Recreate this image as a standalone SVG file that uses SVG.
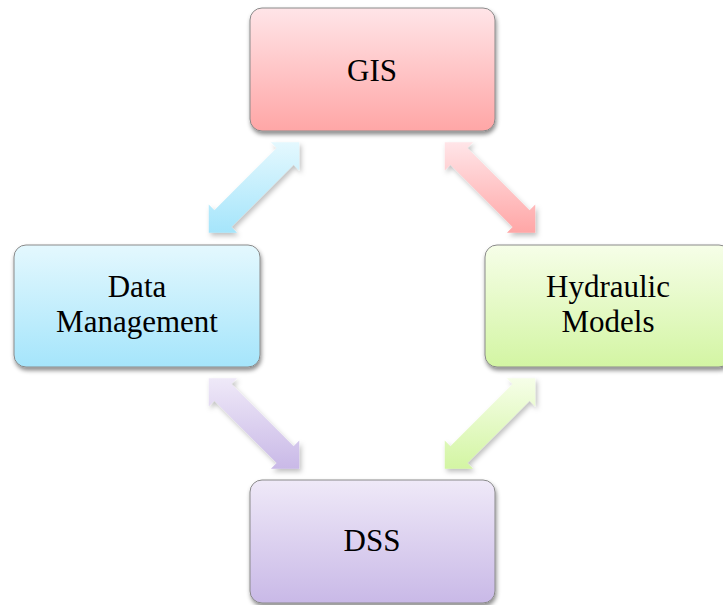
<svg xmlns="http://www.w3.org/2000/svg" xmlns:xlink="http://www.w3.org/1999/xlink" width="723" height="605" viewBox="0 0 723 605">
  <style>
    .box { stroke: #8a8a8a; stroke-width: 1; filter: url(#shadow); }
    .arrow { filter: url(#ashadow); }
    .label { font-family: "Liberation Serif", "Times New Roman", serif; font-size: 31px; fill: #000; text-anchor: middle; }
  </style>
  <defs>
    <filter id="shadow" x="-10%" y="-10%" width="120%" height="130%">
      <feDropShadow dx="1" dy="3" stdDeviation="2.2" flood-color="#000" flood-opacity="0.45"/>
    </filter>
    <filter id="ashadow" x="-20%" y="-20%" width="140%" height="140%">
      <feDropShadow dx="2" dy="3" stdDeviation="2.5" flood-color="#000" flood-opacity="0.25"/>
    </filter>
    <linearGradient id="gRed" x1="0" y1="0" x2="0" y2="1">
      <stop offset="0" stop-color="#ffe5e8"/>
      <stop offset="1" stop-color="#ffa6a6"/>
    </linearGradient>
    <linearGradient id="gBlue" x1="0" y1="0" x2="0" y2="1">
      <stop offset="0" stop-color="#e4f8fe"/>
      <stop offset="1" stop-color="#a5e5fb"/>
    </linearGradient>
    <linearGradient id="gGreen" x1="0" y1="0" x2="0" y2="1">
      <stop offset="0" stop-color="#f6fee8"/>
      <stop offset="1" stop-color="#d3f5a3"/>
    </linearGradient>
    <linearGradient id="gPurple" x1="0" y1="0" x2="0" y2="1">
      <stop offset="0" stop-color="#efe9f8"/>
      <stop offset="1" stop-color="#c9b9e7"/>
    </linearGradient>
    <!-- double-headed block arrows, 45 degrees, centred on the origin -->
    <path id="arrNE" d="M-45.25,45.25 L-45.25,16.97 L-39.6,22.63 L22.63,-39.6 L16.97,-45.25 L45.25,-45.25 L45.25,-16.97 L39.6,-22.63 L-22.63,39.6 L-16.97,45.25 Z"/>
    <path id="arrNW" d="M45.25,45.25 L45.25,16.97 L39.6,22.63 L-22.63,-39.6 L-16.97,-45.25 L-45.25,-45.25 L-45.25,-16.97 L-39.6,-22.63 L22.63,39.6 L16.97,45.25 Z"/>
  </defs>

  <g id="connectors">
    <use class="arrow" xlink:href="#arrNE" href="#arrNE" transform="translate(254,187.5)" fill="url(#gBlue)"/>
    <use class="arrow" xlink:href="#arrNW" href="#arrNW" transform="translate(490,187.5)" fill="url(#gRed)"/>
    <use class="arrow" xlink:href="#arrNW" href="#arrNW" transform="translate(254,423.5)" fill="url(#gPurple)"/>
    <use class="arrow" xlink:href="#arrNE" href="#arrNE" transform="translate(490,423.5)" fill="url(#gGreen)"/>
  </g>

  <g id="gis">
    <rect class="box" x="250" y="8" width="245" height="123" rx="12" fill="url(#gRed)"/>
    <text class="label" x="372" y="81">GIS</text>
  </g>

  <g id="data-management">
    <rect class="box" x="14" y="245" width="246" height="122" rx="12" fill="url(#gBlue)"/>
    <text class="label" x="137" y="297">Data<tspan x="137" dy="35">Management</tspan></text>
  </g>

  <g id="hydraulic-models">
    <rect class="box" x="485" y="245" width="246" height="122" rx="12" fill="url(#gGreen)"/>
    <text class="label" x="608" y="297">Hydraulic<tspan x="608" dy="35">Models</tspan></text>
  </g>

  <g id="dss">
    <rect class="box" x="250" y="480" width="245" height="123" rx="12" fill="url(#gPurple)"/>
    <text class="label" x="372" y="551">DSS</text>
  </g>
</svg>
